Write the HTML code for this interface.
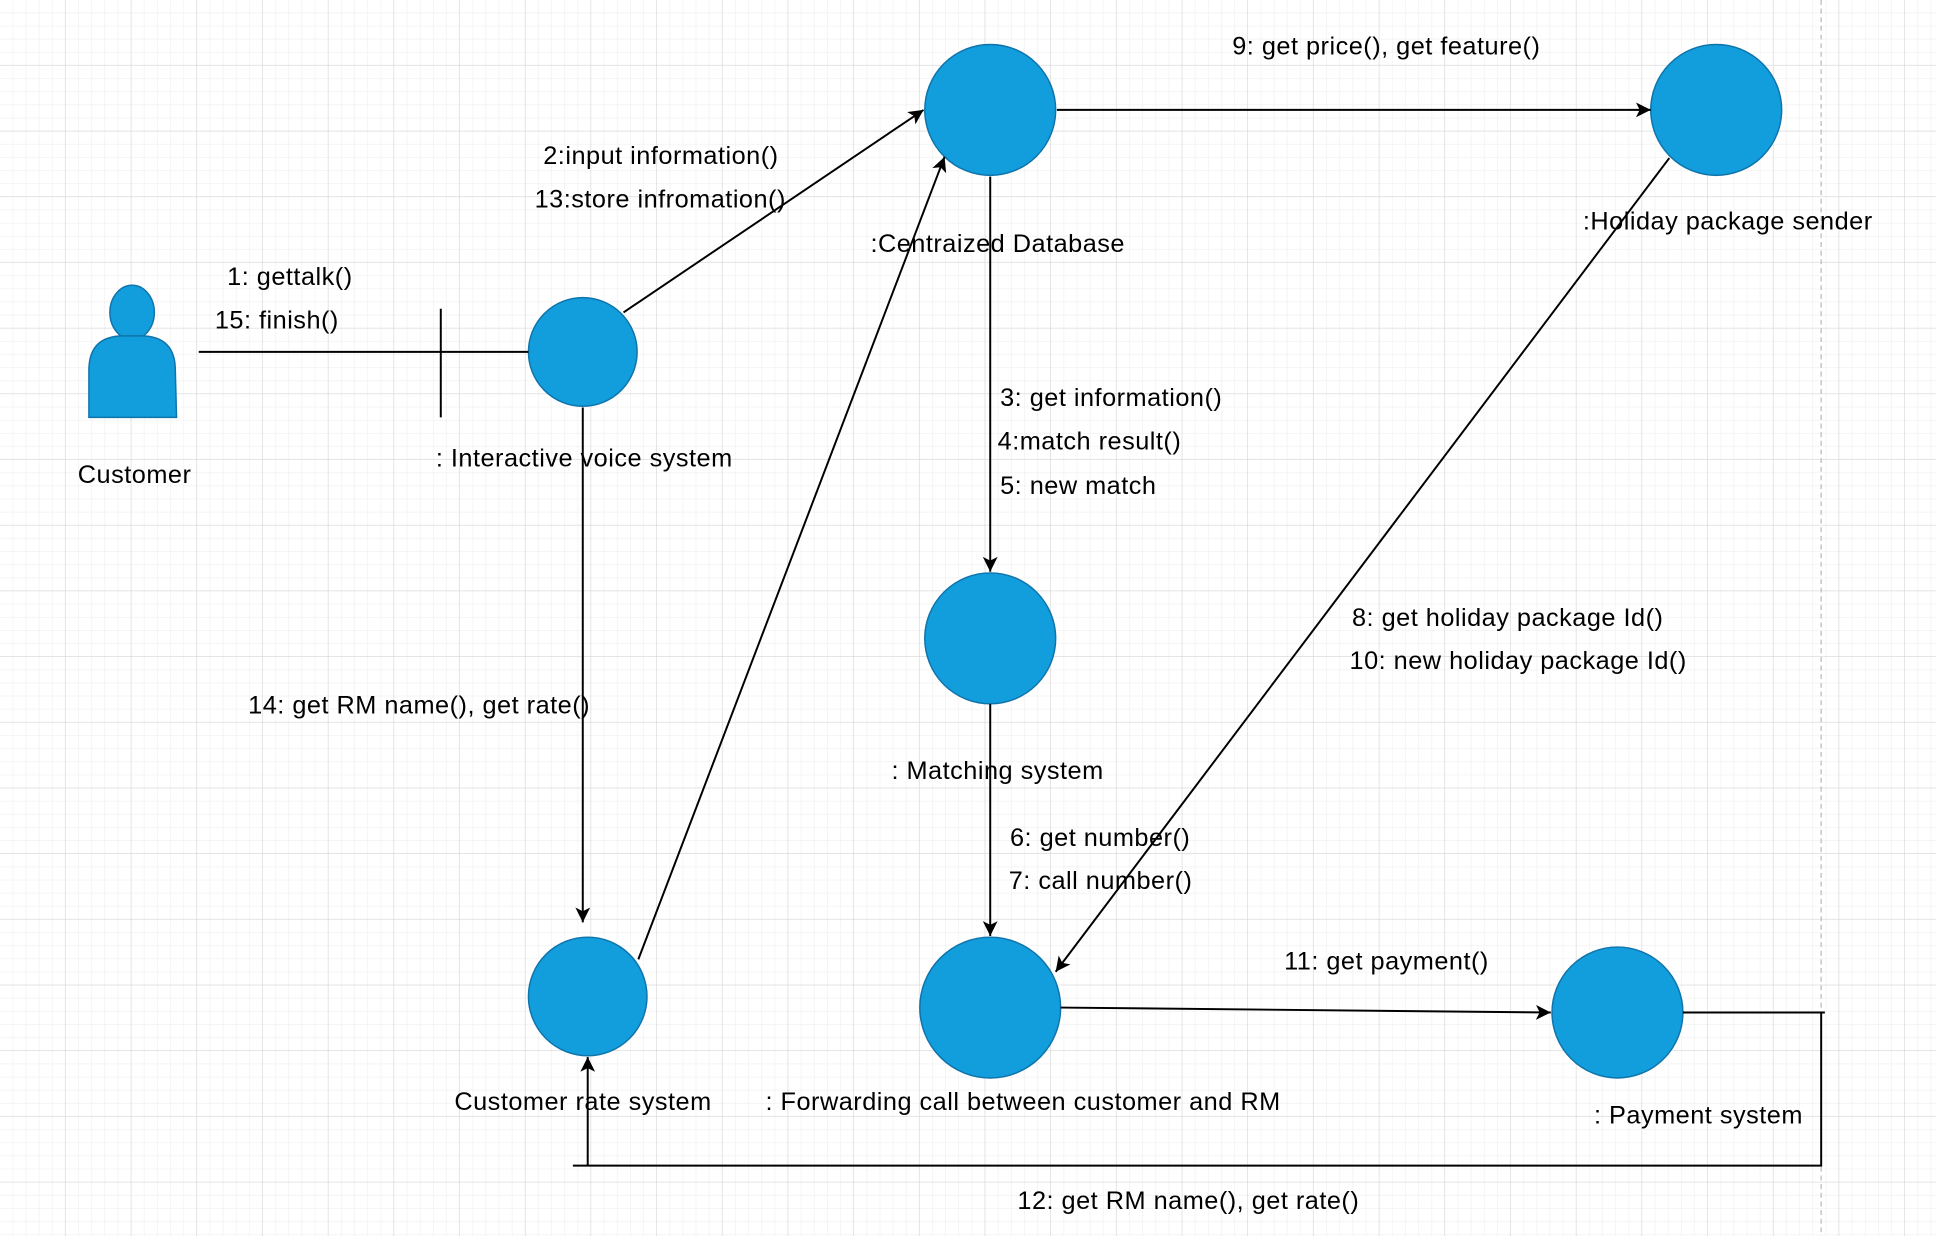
<!DOCTYPE html>
<html><head><meta charset="utf-8"><style>
html,body{margin:0;padding:0;background:#fff;}
svg{display:block;}
text{font-family:"Liberation Sans",Arial,sans-serif;font-size:20.5px;letter-spacing:0.4px;fill:#000;}
</style></head><body>
<svg width="1936" height="1236" viewBox="0 0 1568 1001" preserveAspectRatio="none" xmlns="http://www.w3.org/2000/svg">
<defs>
<pattern id="minor" width="10.64" height="10.64" patternUnits="userSpaceOnUse"><path d="M10.64 0V10.64H0" fill="none" stroke="#ebebeb" stroke-width="0.8"/></pattern>
<pattern id="major" width="53.2" height="53.2" patternUnits="userSpaceOnUse"><rect width="53.2" height="53.2" fill="url(#minor)"/><path d="M53.2 0V53.2H0" fill="none" stroke="#d4d4d4" stroke-width="1"/></pattern>
<marker id="a" markerWidth="13" markerHeight="13" refX="12" refY="6" orient="auto" markerUnits="userSpaceOnUse"><path d="M0,0 L12,6 L0,12 L3,6 z" fill="#000"/></marker>
</defs>
<rect width="1568" height="1001" fill="url(#major)"/>
<line x1="1475" y1="0" x2="1475" y2="1001" stroke="#bbb" stroke-dasharray="4 3"/>
<g fill="#129ddc" stroke="#0f74ab" stroke-width="1.2">
<ellipse cx="107" cy="253" rx="18" ry="22"/>
<path d="M72,338 L72,300 Q72,272 100,272 L114,272 Q142,272 142,300 L143,338 Z"/>
<circle cx="472" cy="285" r="44"/>
<circle cx="802" cy="89" r="53"/>
<circle cx="1390" cy="89" r="53"/>
<circle cx="802" cy="517" r="53"/>
<circle cx="476" cy="807" r="48"/>
<circle cx="802" cy="816" r="57"/>
<circle cx="1310" cy="820" r="53"/>
</g>
<g stroke="#000" stroke-width="1.6" fill="none">
<line x1="161" y1="285" x2="428" y2="285"/>
<line x1="357" y1="250" x2="357" y2="338"/>
<line x1="505" y1="253" x2="748" y2="89" marker-end="url(#a)"/>
<line x1="856" y1="89" x2="1337" y2="89" marker-end="url(#a)"/>
<line x1="802" y1="143" x2="802" y2="463" marker-end="url(#a)"/>
<line x1="802" y1="570" x2="802" y2="758" marker-end="url(#a)"/>
<line x1="1352" y1="128" x2="855" y2="787" marker-end="url(#a)"/>
<line x1="472" y1="330" x2="472" y2="747" marker-end="url(#a)"/>
<line x1="517" y1="777" x2="765" y2="127" marker-end="url(#a)"/>
<line x1="859" y1="816" x2="1256" y2="820" marker-end="url(#a)"/>
<polyline points="1363,820 1478,820 1475,820 1475,944 464,944"/>
<line x1="476" y1="944" x2="476" y2="856" marker-end="url(#a)"/>
</g>
<text x="63" y="391">Customer</text>
<text x="184" y="231">1: gettalk()</text>
<text x="174" y="266">15: finish()</text>
<text x="353" y="378">: Interactive voice system</text>
<text x="440" y="133">2:input information()</text>
<text x="433" y="168">13:store infromation()</text>
<text x="705" y="204">:Centraized Database</text>
<text x="998" y="44">9: get price(), get feature()</text>
<text x="1282" y="186">:Holiday package sender</text>
<text x="810" y="329">3: get information()</text>
<text x="808" y="364">4:match result()</text>
<text x="810" y="400">5: new match</text>
<text x="1095" y="507">8: get holiday package Id()</text>
<text x="1093" y="542">10: new holiday package Id()</text>
<text x="201" y="578">14: get RM name(), get rate()</text>
<text x="722" y="631">: Matching system</text>
<text x="818" y="685">6: get number()</text>
<text x="817" y="720">7: call number()</text>
<text x="1040" y="785">11: get payment()</text>
<text x="368" y="899">Customer rate system</text>
<text x="620" y="899">: Forwarding call between customer and RM</text>
<text x="1291" y="910">: Payment system</text>
<text x="824" y="979">12: get RM name(), get rate()</text>
</svg>
</body></html>
